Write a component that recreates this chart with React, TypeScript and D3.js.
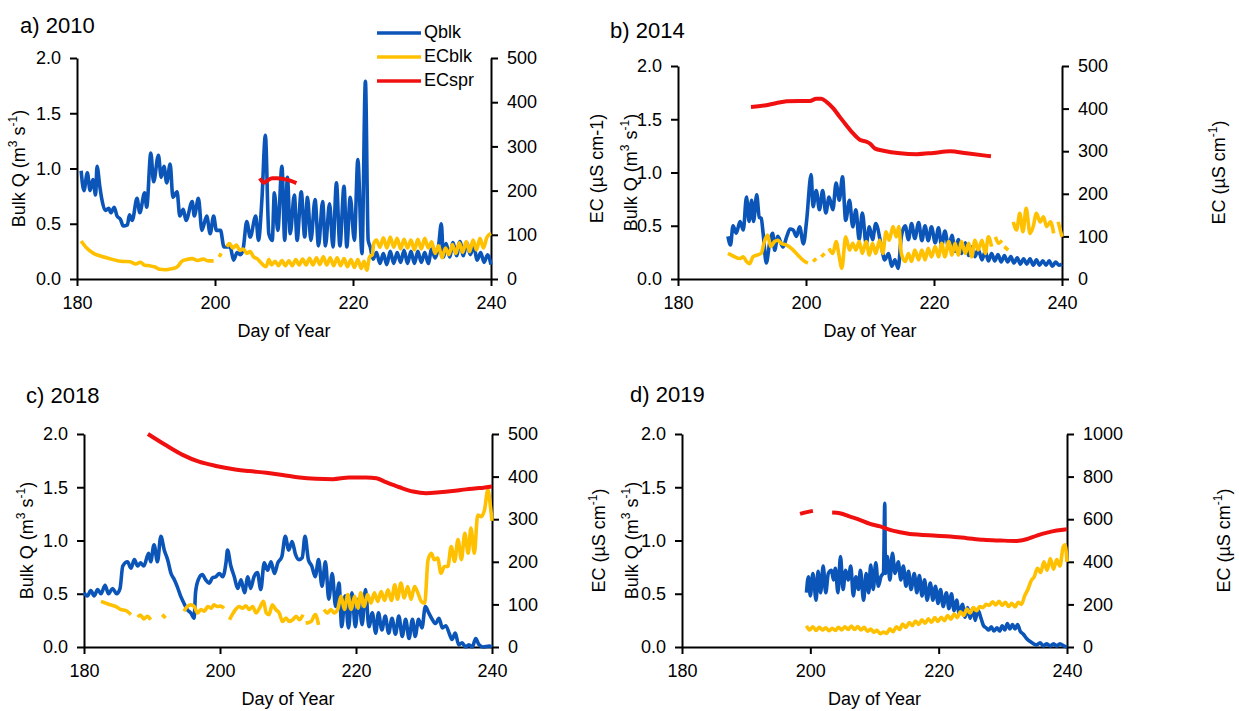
import React, { useEffect, useRef } from "react";
import * as d3 from "d3";

type Pt = [number, number | null];

// axis ticks
const dayTicks = [180, 200, 220, 240];
const qTicks = [0, 0.5, 1.0, 1.5, 2.0];
const ecTicks500 = [0, 100, 200, 300, 400, 500];
const ecTicks1000 = [0, 200, 400, 600, 800, 1000];

const seriesNames = ["Qblk", "ECblk", "ECspr"];
const seriesColors = ["#0b55b8", "#ffc000", "#f01010"];

// ---- 2010 ----
const q2010: Pt[] = [
  [180.6, 0.98], [181.0, 0.8], [181.5, 0.96], [181.9, 0.8], [182.3, 0.9], [182.7, 0.76], [182.9, 1.02],
  [183.3, 0.84], [183.6, 0.72], [184.1, 0.62], [184.6, 0.64], [184.9, 0.6], [185.4, 0.65], [185.8, 0.57],
  [186.3, 0.54], [186.7, 0.48], [187.3, 0.49], [187.6, 0.58], [188.0, 0.53], [188.7, 0.73], [189.1, 0.6],
  [189.8, 0.78], [190.1, 0.65], [190.7, 1.14], [191.1, 0.88], [191.8, 1.12], [192.2, 0.92], [192.6, 1.02],
  [193.0, 0.87], [193.5, 1.04], [193.9, 0.74], [194.5, 0.79], [194.9, 0.57], [195.4, 0.63], [195.8, 0.53],
  [196.7, 0.7], [197.0, 0.57], [197.6, 0.73], [198.1, 0.44], [198.8, 0.57], [199.3, 0.41], [199.8, 0.57],
  [200.2, 0.44], [200.8, 0.44], [201.3, 0.29], [202.2, 0.29], [202.7, 0.17], [203.2, 0.24], [203.7, 0.22],
  [204.1, 0.28], [204.6, 0.52], [205.1, 0.38], [205.9, 0.57], [206.3, 0.35], [206.8, 0.72], [207.3, 1.3],
  [207.8, 0.41], [208.3, 0.35], [208.6, 0.78], [209.1, 0.44], [209.7, 1.02], [210.1, 0.35], [210.5, 0.92],
  [210.9, 0.41], [211.5, 0.76], [211.9, 0.35], [212.5, 0.79], [213.0, 0.38], [213.4, 0.74], [213.9, 0.35],
  [214.5, 0.72], [215.0, 0.3], [215.6, 0.7], [216.0, 0.3], [216.6, 0.68], [217.1, 0.29], [217.6, 0.87],
  [218.1, 0.3], [218.7, 0.84], [219.1, 0.29], [219.6, 0.74], [220.2, 0.35], [220.7, 1.08], [221.3, 0.23],
  [221.8, 1.79], [222.2, 0.35], [222.5, 0.29], [222.9, 0.18], [223.4, 0.24], [223.9, 0.14], [224.4, 0.23],
  [224.9, 0.13], [225.4, 0.25], [225.9, 0.14], [226.4, 0.24], [226.9, 0.15], [227.4, 0.26], [227.9, 0.14],
  [228.4, 0.25], [228.9, 0.14], [229.4, 0.25], [229.9, 0.15], [230.4, 0.24], [230.9, 0.14], [231.4, 0.27],
  [231.9, 0.19], [232.4, 0.3], [232.8, 0.5], [233.1, 0.2], [233.5, 0.32], [234.0, 0.2], [234.5, 0.33],
  [235.0, 0.21], [235.5, 0.34], [236.0, 0.21], [236.5, 0.33], [237.0, 0.22], [237.5, 0.3], [238.0, 0.17],
  [238.5, 0.24], [239.0, 0.15], [239.5, 0.22], [240.0, 0.13],
];
const ecb2010: Pt[] = [
  [180.6, 86], [181.4, 70], [182.4, 58], [183.4, 52], [184.8, 46], [186.3, 40], [187.7, 39], [188.5, 34],
  [189.2, 38], [189.8, 31], [190.5, 30], [191.3, 27], [192.0, 22], [192.8, 21], [193.7, 23], [194.5, 27],
  [195.2, 40], [195.9, 44], [196.7, 46], [197.5, 42], [198.3, 45], [199.0, 41], [199.8, 41], [199.9, null],
  [200.6, 50], [200.9, 58], [201.0, null],
  [201.7, 73], [202.1, 80], [202.6, 70], [203.1, 77], [203.6, 65], [204.1, 68], [204.6, 58], [205.1, 62],
  [205.6, 50], [206.1, 46], [206.6, 38], [207.1, 30], [207.4, 28], [207.8, 44], [208.2, 32], [208.7, 40],
  [209.2, 30], [209.7, 42], [210.2, 30], [210.7, 41], [211.2, 30], [211.7, 44], [212.2, 32], [212.7, 45],
  [213.2, 32], [213.7, 47], [214.2, 32], [214.7, 48], [215.2, 33], [215.7, 50], [216.2, 32], [216.7, 48],
  [217.2, 30], [217.7, 48], [218.2, 30], [218.7, 46], [219.2, 28], [219.7, 44], [220.2, 26], [220.7, 44],
  [221.2, 24], [221.6, 40], [222.0, 20], [222.4, 50], [222.8, 55], [223.0, 80], [223.4, 88], [223.9, 72],
  [224.4, 93], [224.9, 70], [225.4, 95], [225.9, 72], [226.4, 92], [226.9, 68], [227.4, 90], [227.9, 70],
  [228.4, 88], [228.9, 66], [229.4, 90], [229.9, 68], [230.4, 92], [230.9, 70], [231.4, 84], [231.9, 58],
  [232.4, 75], [232.9, 48], [233.4, 70], [233.9, 55], [234.4, 78], [234.9, 58], [235.4, 82], [235.9, 60],
  [236.4, 85], [236.9, 62], [237.4, 88], [237.9, 66], [238.4, 92], [238.9, 70], [239.4, 94], [240.0, 103],
];
const ecs2010: Pt[] = [
  [206.5, 228], [207.1, 218], [207.6, 223], [208.3, 228], [209.0, 228], [210.0, 226], [211.0, 222], [211.8, 217],
];

// ---- 2014 ----
const q2014: Pt[] = [
  [187.8, 0.4], [188.2, 0.32], [188.6, 0.5], [189.1, 0.43], [189.7, 0.54], [190.2, 0.46], [190.7, 0.77],
  [191.1, 0.54], [191.5, 0.74], [191.8, 0.54], [192.3, 0.79], [192.7, 0.58], [193.0, 0.57], [193.3, 0.43],
  [193.8, 0.15], [194.3, 0.33], [194.8, 0.43], [195.1, 0.27], [195.6, 0.4], [196.4, 0.3], [197.0, 0.4],
  [197.5, 0.47], [198.0, 0.46], [198.5, 0.4], [199.0, 0.49], [199.6, 0.33], [200.1, 0.55], [200.8, 0.98],
  [201.1, 0.68], [201.6, 0.83], [202.1, 0.65], [202.6, 0.83], [203.1, 0.62], [203.6, 0.77], [204.2, 0.65],
  [204.7, 0.9], [205.2, 0.74], [205.7, 0.96], [206.2, 0.55], [206.8, 0.74], [207.3, 0.49], [207.8, 0.65],
  [208.3, 0.37], [208.8, 0.62], [209.4, 0.33], [209.9, 0.49], [210.4, 0.37], [210.9, 0.52], [211.8, 0.3],
  [212.3, 0.18], [212.9, 0.24], [213.4, 0.12], [213.9, 0.18], [214.4, 0.1], [214.9, 0.4], [215.5, 0.5],
  [216.0, 0.37], [216.5, 0.52], [217.0, 0.38], [217.6, 0.53], [218.1, 0.36], [218.6, 0.5], [219.1, 0.36],
  [219.6, 0.49], [220.2, 0.34], [220.7, 0.48], [221.2, 0.31], [221.7, 0.45], [222.3, 0.29], [222.8, 0.41],
  [223.3, 0.26], [223.8, 0.37], [224.3, 0.24], [224.9, 0.34], [225.4, 0.22], [225.9, 0.3], [226.4, 0.21],
  [226.9, 0.28], [227.5, 0.18], [228.0, 0.26], [228.5, 0.17], [229.0, 0.24], [229.5, 0.17], [230.0, 0.23],
  [230.5, 0.16], [231.0, 0.22], [231.5, 0.16], [232.0, 0.21], [232.5, 0.15], [233.0, 0.2], [233.5, 0.14],
  [234.0, 0.19], [234.5, 0.14], [235.0, 0.19], [235.5, 0.13], [236.0, 0.18], [236.5, 0.13], [237.0, 0.17],
  [237.5, 0.13], [238.0, 0.17], [238.5, 0.12], [239.0, 0.16], [239.5, 0.13], [240.0, 0.14],
];
const ecb2014: Pt[] = [
  [187.8, 60], [188.6, 54], [189.7, 48], [190.2, 52], [190.7, 41], [191.2, 36], [191.7, 52], [192.3, 56],
  [193.0, 60], [193.5, 88], [194.0, 103], [194.5, 76], [195.1, 88], [195.6, 91], [196.1, 84], [196.9, 80],
  [197.7, 72], [198.5, 60], [199.0, 52], [199.8, 41], [200.3, 37], [200.4, null],
  [201.1, 41], [201.6, 48], [201.7, null],
  [202.4, 52], [202.9, 60], [203.0, null],
  [203.6, 72], [204.2, 60], [204.7, 88], [205.2, 52], [205.6, 25], [206.2, 99], [206.8, 68], [207.3, 84],
  [207.8, 68], [208.3, 88], [208.8, 60], [209.4, 88], [209.9, 56], [210.4, 84], [210.9, 60], [211.5, 91],
  [212.0, 60], [212.5, 111], [213.0, 91], [213.6, 123], [214.1, 99], [214.5, 123], [214.9, 60], [215.5, 41],
  [216.0, 60], [216.5, 41], [217.0, 68], [217.6, 45], [218.1, 68], [218.6, 45], [219.1, 72], [219.6, 52],
  [220.2, 76], [220.7, 52], [221.2, 84], [221.7, 52], [222.3, 88], [222.8, 56], [223.3, 84], [223.8, 56],
  [224.3, 88], [224.9, 60], [225.4, 84], [225.9, 52], [226.4, 91], [226.9, 68], [227.5, 91], [228.0, 60],
  [228.5, 99], [229.0, 76], [229.1, null],
  [229.6, 99], [230.1, 84], [230.6, 91], [230.7, null],
  [231.0, 76], [231.6, 68], [231.7, null],
  [232.4, 134], [232.9, 115], [233.4, 154], [233.9, 111], [234.4, 166], [235.0, 107], [235.5, 123],
  [236.0, 154], [236.6, 134], [237.1, 146], [237.6, 123], [238.2, 134], [238.7, 107], [238.8, null],
  [239.4, 134], [240.0, 99],
];
const ecs2014: Pt[] = [
  [191.4, 404], [193.8, 408], [195.4, 413], [197.0, 417], [199.0, 418], [200.6, 418], [201.6, 423],
  [202.4, 423], [203.2, 416], [204.3, 400], [205.3, 380], [206.3, 361], [207.4, 341], [208.4, 327],
  [209.5, 322], [210.0, 318], [210.8, 306], [212.1, 301], [214.7, 295], [217.3, 293], [219.9, 296],
  [222.5, 300], [225.1, 295], [228.9, 288],
];

// ---- 2018 ----
const q2018: Pt[] = [
  [180.0, 0.51], [180.5, 0.48], [181.0, 0.53], [181.5, 0.48], [182.0, 0.54], [182.5, 0.5], [183.1, 0.58],
  [183.6, 0.5], [184.2, 0.55], [184.8, 0.5], [185.3, 0.55], [185.7, 0.76], [186.4, 0.8], [186.9, 0.74],
  [187.4, 0.82], [187.9, 0.76], [188.3, 0.79], [188.8, 0.76], [189.5, 0.88], [189.8, 0.8], [190.3, 0.96],
  [190.8, 0.8], [191.3, 1.04], [191.8, 0.91], [192.3, 0.82], [192.8, 0.69], [193.3, 0.63], [193.7, 0.57],
  [194.2, 0.48], [194.7, 0.41], [195.2, 0.35], [195.7, 0.32], [196.2, 0.27], [196.4, 0.51], [196.8, 0.63],
  [197.4, 0.68], [197.9, 0.63], [198.4, 0.6], [198.9, 0.65], [199.4, 0.66], [199.9, 0.69], [200.4, 0.66],
  [200.9, 0.8], [201.1, 0.91], [201.6, 0.76], [202.1, 0.66], [202.6, 0.55], [203.1, 0.63], [203.6, 0.51],
  [204.1, 0.66], [204.5, 0.55], [205.0, 0.66], [205.5, 0.7], [206.0, 0.54], [206.5, 0.79], [207.0, 0.72],
  [207.5, 0.8], [208.0, 0.69], [208.5, 0.79], [209.1, 0.85], [209.6, 1.04], [210.1, 0.91], [210.6, 0.99],
  [211.1, 0.87], [211.6, 0.82], [212.1, 0.84], [212.5, 1.04], [213.0, 0.82], [213.5, 0.76], [214.0, 0.66],
  [214.5, 0.82], [215.0, 0.57], [215.5, 0.8], [216.0, 0.45], [216.5, 0.69], [217.0, 0.38], [217.5, 0.6],
  [217.9, 0.19], [218.4, 0.48], [218.9, 0.18], [219.4, 0.51], [219.9, 0.19], [220.4, 0.45], [220.9, 0.21],
  [221.4, 0.54], [221.9, 0.19], [222.4, 0.32], [222.9, 0.13], [223.3, 0.32], [223.8, 0.16], [224.3, 0.29],
  [224.8, 0.13], [225.3, 0.27], [225.8, 0.12], [226.3, 0.29], [226.8, 0.1], [227.3, 0.26], [227.8, 0.08],
  [228.3, 0.26], [228.7, 0.1], [229.2, 0.26], [229.7, 0.18], [230.2, 0.38], [230.7, 0.32], [231.2, 0.26],
  [231.7, 0.22], [232.2, 0.27], [232.7, 0.18], [233.2, 0.2], [233.7, 0.13], [234.1, 0.07], [234.6, 0.13],
  [235.1, 0.02], [235.6, 0.04], [236.1, 0.0], [236.6, 0.02], [237.1, 0.0], [237.6, 0.08], [238.1, 0.02],
  [238.7, 0.0], [239.6, 0.01], [240.0, 0.0],
];
const ecb2018: Pt[] = [
  [182.5, 107], [183.2, 103], [183.9, 99], [184.7, 95], [185.4, 88], [186.1, 86], [186.9, 76], [187.0, null],
  [187.9, 70], [188.3, 75], [188.8, 66], [189.3, 72], [189.8, 64], [189.9, null],
  [191.5, 76], [192.0, 68], [192.1, null],
  [194.7, 84], [195.2, 95], [195.7, 99], [196.2, 95], [196.7, 80], [197.2, 88], [197.7, 84], [198.2, 95],
  [198.7, 91], [199.1, 99], [199.6, 95], [200.1, 96], [200.6, 91], [200.7, null],
  [201.4, 64], [201.8, 76], [202.3, 88], [202.8, 95], [203.3, 91], [203.8, 97], [204.3, 88], [204.8, 95],
  [205.3, 80], [205.8, 91], [206.4, 107], [206.8, 80], [207.2, 76], [207.7, 99], [208.2, 88], [208.7, 80],
  [209.2, 60], [209.7, 68], [210.2, 60], [210.7, 64], [211.2, 72], [211.7, 64], [212.2, 76], [212.3, null],
  [212.6, 56], [213.4, 60], [214.0, 76], [214.5, 52], [214.6, null],
  [215.3, 88], [215.8, 80], [216.3, 88], [216.8, 80], [217.3, 88], [217.8, 119], [218.3, 88], [218.8, 123],
  [219.3, 88], [219.8, 119], [220.3, 91], [220.7, 127], [221.2, 95], [221.7, 123], [222.2, 103], [222.7, 127],
  [223.2, 107], [223.7, 130], [224.2, 109], [224.7, 134], [225.2, 109], [225.7, 146], [226.1, 112],
  [226.6, 150], [227.1, 115], [227.6, 142], [228.1, 112], [228.6, 142], [229.1, 127], [229.6, 107],
  [230.1, 103], [230.6, 205], [231.1, 220], [231.5, 205], [232.0, 209], [232.5, 173], [233.0, 189],
  [233.5, 189], [234.0, 236], [234.5, 201], [235.0, 252], [235.5, 205], [236.0, 267], [236.5, 220],
  [236.9, 279], [237.4, 220], [237.9, 310], [238.4, 306], [238.9, 322], [239.4, 369], [239.7, 340], [240.0, 296],
];
const ecs2018: Pt[] = [
  [189.4, 500], [192.0, 474], [194.5, 451], [196.9, 435], [199.4, 425], [201.8, 418], [204.3, 413],
  [206.8, 409], [209.2, 404], [211.7, 398], [214.1, 395], [216.6, 394], [219.0, 398], [221.5, 398],
  [223.0, 396], [224.4, 387], [226.4, 375], [228.4, 365], [230.3, 361], [232.3, 363], [234.2, 366],
  [236.2, 370], [238.2, 373], [240.0, 377],
];

// ---- 2019 ----
const q2019: Pt[] = [
  [199.4, 0.51], [199.7, 0.66], [200.0, 0.48], [200.4, 0.69], [200.9, 0.44], [201.2, 0.71], [201.6, 0.51],
  [202.0, 0.76], [202.4, 0.51], [202.8, 0.69], [203.3, 0.72], [203.6, 0.63], [203.9, 0.74], [204.3, 0.51],
  [204.7, 0.85], [205.1, 0.54], [205.5, 0.72], [205.9, 0.63], [206.3, 0.76], [206.7, 0.48], [207.1, 0.66],
  [207.5, 0.54], [207.8, 0.72], [208.3, 0.44], [208.7, 0.69], [209.1, 0.51], [209.4, 0.77], [209.8, 0.54],
  [210.2, 0.79], [210.6, 0.57], [211.0, 0.66], [211.4, 0.7], [211.6, 1.35], [211.7, 0.69], [212.0, 0.85],
  [212.4, 0.63], [212.8, 0.88], [213.2, 0.69], [213.7, 0.8], [214.1, 0.63], [214.5, 0.76], [214.9, 0.57],
  [215.3, 0.71], [215.7, 0.54], [216.2, 0.69], [216.6, 0.51], [217.0, 0.67], [217.4, 0.48], [217.8, 0.63],
  [218.2, 0.44], [218.7, 0.6], [219.1, 0.44], [219.5, 0.57], [219.9, 0.41], [220.3, 0.54], [220.7, 0.38],
  [221.2, 0.51], [221.6, 0.36], [222.0, 0.5], [222.4, 0.34], [222.8, 0.44], [223.2, 0.31], [223.7, 0.4],
  [224.1, 0.28], [224.5, 0.37], [224.9, 0.27], [225.3, 0.36], [225.7, 0.25], [226.1, 0.35], [226.6, 0.27],
  [227.0, 0.2], [227.4, 0.18], [227.8, 0.16], [228.2, 0.19], [228.6, 0.15], [229.1, 0.18], [229.5, 0.15],
  [229.9, 0.2], [230.3, 0.16], [230.7, 0.22], [231.1, 0.17], [231.5, 0.21], [231.9, 0.17], [232.3, 0.21],
  [232.7, 0.15], [233.2, 0.12], [233.7, 0.08], [234.3, 0.05], [234.8, 0.03], [235.3, 0.02], [235.8, 0.04],
  [236.3, 0.01], [236.8, 0.03], [237.4, 0.01], [237.9, 0.03], [238.4, 0.01], [238.9, 0.03], [239.5, 0.01],
  [240.0, 0.0],
];
const ecb2019: Pt[] = [
  [199.4, 100], [199.9, 80], [200.4, 95], [200.9, 78], [201.4, 92], [201.9, 80], [202.4, 90], [202.9, 76],
  [203.4, 88], [203.9, 78], [204.4, 92], [204.9, 80], [205.4, 95], [205.9, 82], [206.4, 98], [206.9, 82],
  [207.4, 96], [207.9, 80], [208.4, 92], [208.9, 74], [209.4, 84], [209.9, 70], [210.4, 78], [210.9, 62],
  [211.4, 70], [211.9, 64], [212.4, 85], [212.9, 72], [213.4, 95], [213.9, 82], [214.4, 108], [214.9, 92],
  [215.4, 115], [215.9, 100], [216.4, 122], [216.9, 106], [217.4, 128], [217.9, 112], [218.4, 132],
  [218.9, 116], [219.4, 138], [219.9, 120], [220.4, 140], [220.9, 124], [221.4, 148], [221.9, 130],
  [222.4, 155], [222.9, 138], [223.4, 165], [223.9, 148], [224.4, 178], [224.9, 160], [225.4, 185],
  [225.9, 170], [226.4, 190], [226.9, 185], [227.4, 200], [227.9, 196], [228.4, 212], [228.9, 198],
  [229.4, 214], [229.9, 195], [230.4, 210], [230.9, 190], [231.4, 205], [231.9, 188], [232.4, 210],
  [232.9, 200], [233.4, 240], [233.9, 270], [234.4, 310], [234.9, 330], [235.4, 370], [235.9, 350],
  [236.4, 400], [236.9, 360], [237.4, 415], [237.9, 365], [238.4, 410], [238.9, 380], [239.4, 470],
  [239.7, 480], [240.0, 400],
];
const ecs2019: Pt[] = [
  [198.4, 625], [199.1, 631], [200.4, 639], [200.5, null],
  [203.4, 631], [204.6, 628], [206.2, 612], [207.7, 597], [209.3, 578], [210.9, 566], [212.4, 550],
  [214.0, 539], [215.5, 531], [217.1, 527], [219.2, 523], [221.8, 519], [224.4, 511], [227.0, 503],
  [229.6, 500], [232.2, 498], [233.7, 506], [235.3, 523], [236.9, 537], [238.4, 547], [240.0, 553],
];

const panels = [
  {
    title: "a) 2010", tx: 20, ty: 33, left: 77, right: 491, top: 58, bottom: 279,
    ecMax: 500, ecTicks: ecTicks500, q: q2010, ecb: ecb2010, ecs: ecs2010,
    qLabelX: 20, ecLabelX: 598, plainUnit: true, legend: true,
  },
  {
    title: "b) 2014", tx: 610, ty: 38, left: 678, right: 1062, top: 66, bottom: 279,
    ecMax: 500, ecTicks: ecTicks500, q: q2014, ecb: ecb2014, ecs: ecs2014,
    qLabelX: 632, ecLabelX: 1220, plainUnit: false, legend: false,
  },
  {
    title: "c) 2018", tx: 26, ty: 403, left: 84, right: 492, top: 434, bottom: 647,
    ecMax: 500, ecTicks: ecTicks500, q: q2018, ecb: ecb2018, ecs: ecs2018,
    qLabelX: 28, ecLabelX: 600, plainUnit: false, legend: false,
  },
  {
    title: "d) 2019", tx: 630, ty: 402, left: 682, right: 1067, top: 434, bottom: 647,
    ecMax: 1000, ecTicks: ecTicks1000, q: q2019, ecb: ecb2019, ecs: ecs2019,
    qLabelX: 633, ecLabelX: 1225, plainUnit: false, legend: false,
  },
];

const FONT = "'Liberation Sans', Arial, sans-serif";
const FS = 18;

const App = () => {
  const ref = useRef<SVGSVGElement | null>(null);

  useEffect(() => {
    document.body.style.margin = "0";
    const svg = d3.select(ref.current);
    svg.selectAll("*").remove();

    panels.forEach((p) => {
      const g = svg.append("g");
      const x = d3.scaleLinear().domain([180, 240]).range([p.left, p.right]);
      const yQ = d3.scaleLinear().domain([0, 2]).range([p.bottom, p.top]);
      const yE = d3.scaleLinear().domain([0, p.ecMax]).range([p.bottom, p.top]);

      const styleAxis = (a: any) => {
        a.attr("font-family", FONT).attr("font-size", FS);
        a.selectAll(".domain").attr("stroke", "#000").attr("stroke-width", 2);
        a.selectAll(".tick line").attr("stroke", "#000").attr("stroke-width", 2);
        a.selectAll(".tick text").attr("fill", "#000");
      };

      // axes
      g.append("g")
        .attr("transform", `translate(0,${p.bottom})`)
        .call(d3.axisBottom(x).tickValues(dayTicks).tickSize(7).tickSizeOuter(0).tickPadding(10))
        .call(styleAxis);
      g.append("g")
        .attr("transform", `translate(${p.left},0)`)
        .call(d3.axisLeft(yQ).tickValues(qTicks).tickFormat(d3.format(".1f")).tickSize(7).tickSizeOuter(0).tickPadding(9))
        .call(styleAxis);
      g.append("g")
        .attr("transform", `translate(${p.right},0)`)
        .call(d3.axisRight(yE).tickValues(p.ecTicks).tickFormat(d3.format("d")).tickSize(7).tickSizeOuter(0).tickPadding(9))
        .call(styleAxis);

      // series lines
      const lineQ = d3.line<Pt>()
        .defined((d) => d[1] !== null)
        .x((d) => x(d[0]))
        .y((d) => yQ(d[1] as number))
        .curve(d3.curveMonotoneX);
      const lineE = d3.line<Pt>()
        .defined((d) => d[1] !== null)
        .x((d) => x(d[0]))
        .y((d) => yE(d[1] as number))
        .curve(d3.curveMonotoneX);

      g.append("path").datum(p.q).attr("d", lineQ).attr("fill", "none")
        .attr("stroke", seriesColors[0]).attr("stroke-width", 3.6).attr("stroke-linejoin", "round");
      g.append("path").datum(p.ecb).attr("d", lineE).attr("fill", "none")
        .attr("stroke", seriesColors[1]).attr("stroke-width", 3.6).attr("stroke-linejoin", "round");
      g.append("path").datum(p.ecs).attr("d", lineE).attr("fill", "none")
        .attr("stroke", seriesColors[2]).attr("stroke-width", 4).attr("stroke-linejoin", "round");

      // panel title
      g.append("text").attr("x", p.tx).attr("y", p.ty).attr("font-family", FONT)
        .attr("font-size", 22).attr("fill", "#000").text(p.title);

      // x axis title
      g.append("text").attr("x", (p.left + p.right) / 2).attr("y", p.bottom + 58)
        .attr("text-anchor", "middle").attr("font-family", FONT).attr("font-size", FS)
        .attr("fill", "#000").text("Day of Year");

      // left axis title
      const cy = (p.top + p.bottom) / 2;
      const ql = g.append("text")
        .attr("transform", `translate(${p.qLabelX},${cy}) rotate(-90)`)
        .attr("text-anchor", "middle").attr("dominant-baseline", "middle")
        .attr("font-family", FONT).attr("font-size", FS).attr("fill", "#000");
      ql.append("tspan").text("Bulk Q (m");
      ql.append("tspan").attr("dy", -6).attr("font-size", 12).text("3");
      ql.append("tspan").attr("dy", 6).text(" s");
      ql.append("tspan").attr("dy", -6).attr("font-size", 12).text("-1");
      ql.append("tspan").attr("dy", 6).text(")");

      // right axis title
      const el = g.append("text")
        .attr("transform", `translate(${p.ecLabelX},${cy}) rotate(-90)`)
        .attr("text-anchor", "middle").attr("dominant-baseline", "middle")
        .attr("font-family", FONT).attr("font-size", FS).attr("fill", "#000");
      if (p.plainUnit) {
        el.text("EC (µS cm-1)");
      } else {
        el.append("tspan").text("EC (µS cm");
        el.append("tspan").attr("dy", -6).attr("font-size", 12).text("-1");
        el.append("tspan").attr("dy", 6).text(")");
      }

      // legend
      if (p.legend) {
        seriesNames.forEach((name, i) => {
          const ly = 33 + i * 24;
          g.append("line").attr("x1", 377).attr("x2", 421).attr("y1", ly).attr("y2", ly)
            .attr("stroke", seriesColors[i]).attr("stroke-width", 3.6);
          g.append("text").attr("x", 424).attr("y", ly).attr("dominant-baseline", "middle")
            .attr("font-family", FONT).attr("font-size", FS).attr("fill", "#000").text(name);
        });
      }
    });
  }, []);

  return <svg ref={ref} width={1239} height={711} style={{ display: "block", background: "#fff" }} />;
};

export default App;
